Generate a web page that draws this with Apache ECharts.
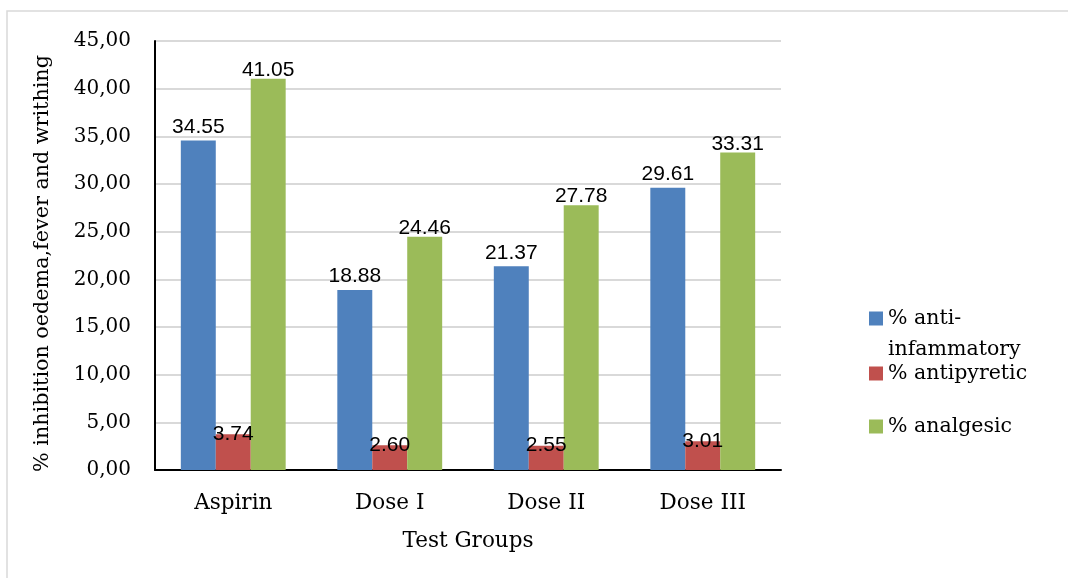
<!DOCTYPE html>
<html>
<head>
<meta charset="utf-8">
<script src="https://cdn.jsdelivr.net/npm/echarts@6/dist/echarts.min.js"></script>
<style>
  html, body { margin: 0; padding: 0; background: #ffffff; }
  #chart { width: 1068px; height: 578px; }
</style>
</head>
<body>
<div id="chart"></div>
<script>
// Test groups along the x axis
const categories = ['Aspirin', 'Dose I', 'Dose II', 'Dose III'];

// Percent inhibition per activity
const antiInflammatory = [34.55, 18.88, 21.37, 29.61];
const antipyretic = [3.74, 2.60, 2.55, 3.01];
const analgesic = [41.05, 24.46, 27.78, 33.31];

// Series names as shown in the legend
const seriesNames = ['% anti-infammatory', '% antipyretic', '% analgesic'];

// Y axis tick labels (comma decimal separator)
const yTickLabels = ['0,00', '5,00', '10,00', '15,00', '20,00', '25,00', '30,00', '35,00', '40,00', '45,00'];

const serif = 'DejaVu Serif';
const sans = 'Liberation Sans';

const chart = echarts.init(document.getElementById('chart'), null, { renderer: 'canvas' });

function labelFor(distance) {
  return {
    show: true,
    position: 'top',
    distance: distance,
    fontFamily: sans,
    fontSize: 21,
    color: '#000000',
    formatter: p => p.value.toFixed(2)
  };
}

const legendBase = {
  orient: 'vertical',
  left: 869,
  padding: 0,
  itemWidth: 14,
  itemHeight: 14,
  icon: 'rect',
  textStyle: { fontFamily: serif, fontSize: 20.5, color: '#000000', lineHeight: 31 }
};

chart.setOption({
  animation: false,
  backgroundColor: '#ffffff',
  graphic: [{
    type: 'rect',
    shape: { x: 7, y: 11, width: 1200, height: 700 },
    style: { fill: 'none', stroke: '#d9d9d9', lineWidth: 1.5 },
    silent: true,
    z: -10
  }],
  grid: { left: 155, right: 287, top: 41, bottom: 108 },
  legend: [
    // leading blank line keeps the swatch level with the first text line
    Object.assign({}, legendBase, {
      top: 272,
      data: [seriesNames[0]],
      formatter: () => '\n% anti-\ninfammatory'
    }),
    Object.assign({}, legendBase, { top: 358, data: [seriesNames[1]] }),
    Object.assign({}, legendBase, { top: 411, data: [seriesNames[2]] })
  ],
  xAxis: {
    type: 'category',
    data: categories,
    name: 'Test Groups',
    nameLocation: 'middle',
    nameGap: 60,
    nameTextStyle: { fontFamily: serif, fontSize: 21.5, color: '#000000' },
    axisLine: { lineStyle: { color: '#000000', width: 2 } },
    axisTick: { show: false },
    axisLabel: { fontFamily: serif, fontSize: 21.5, color: '#000000', margin: 22 }
  },
  yAxis: {
    type: 'value',
    min: 0,
    max: 45,
    interval: 5,
    name: '% inhibition oedema,fever and writhing',
    nameLocation: 'middle',
    nameGap: 102,
    nameTextStyle: { fontFamily: serif, fontSize: 20.7, color: '#000000', padding: [0, 16, 0, 0] },
    axisLine: { show: true, lineStyle: { color: '#000000', width: 2 } },
    axisTick: { show: false },
    axisLabel: {
      fontFamily: serif, fontSize: 20, color: '#000000', margin: 24,
      formatter: v => yTickLabels[Math.round(v / 5)]
    },
    splitLine: { lineStyle: { color: '#d9d9d9', width: 2 } }
  },
  series: [
    {
      name: seriesNames[0], type: 'bar', data: antiInflammatory,
      barGap: '0%', barCategoryGap: '33%',
      itemStyle: { color: '#4F81BD' },
      label: labelFor(3)
    },
    {
      name: seriesNames[1], type: 'bar', data: antipyretic,
      barGap: '0%', barCategoryGap: '33%',
      itemStyle: { color: '#C0504D' },
      label: labelFor(-10)
    },
    {
      name: seriesNames[2], type: 'bar', data: analgesic,
      barGap: '0%', barCategoryGap: '33%',
      itemStyle: { color: '#9BBB59' },
      label: labelFor(-2)
    }
  ]
});
</script>
</body>
</html>
